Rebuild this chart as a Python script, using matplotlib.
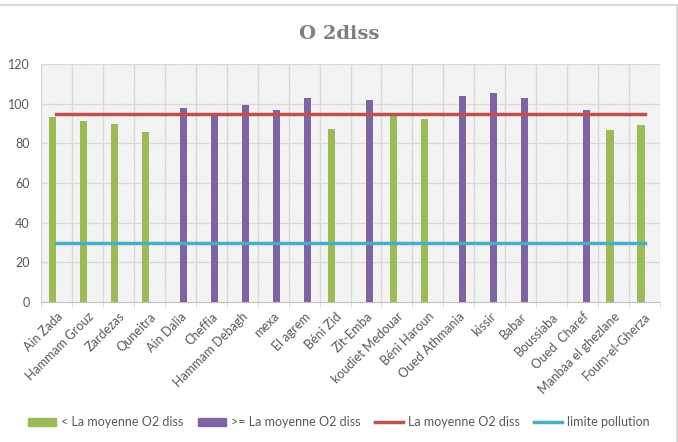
import matplotlib
matplotlib.use("Agg")
import matplotlib.pyplot as plt
import numpy as np
from matplotlib.lines import Line2D
from matplotlib.patches import Patch

categories = ["Ain Zada", "Hammam Grouz", "Zardezas", "Quneitra", "Ain Dalia", "Cheffia",
              "Hammam Debagh", "mexa", "El agrem", "Béni Zid", "Zit-Emba", "koudiet Medouar",
              "Béni Haroun", "Oued Athmania", "kissir", "Babar", "Boussiaba", "Oued  Charef",
              "Manbaa el ghezlane", "Foum-el-Gherza"]
below_mean = [93.3, 91.1, 89.6, 85.7, 0, 0, 0, 0, 0, 87.0, 0, 93.8, 92.4, 0, 0, 0, 0, 0, 86.9, 89.4]
above_mean = [0, 0, 0, 0, 97.9, 95.2, 99.4, 96.7, 102.8, 0, 101.6, 0, 0, 103.8, 105.5, 102.8, 0, 96.7, 0, 0]
mean_value = 95
pollution_limit = 30

green = "#9bbb59"
purple = "#8064a2"
red = "#c0504d"
blue = "#4bacc6"
grid = "#d9d9d9"
text_c = "#595959"

plt.rcParams['font.family'] = ['Lato', 'DejaVu Sans']
plt.rcParams['hatch.linewidth'] = 0.6

fig = plt.figure(figsize=(6.78, 4.42), dpi=100)
ax = fig.add_axes([41/678, 1-302/442, (660-41)/678, (302-64)/442])

n = len(categories)
x = np.arange(n)
w = 0.23

# hatched background
ax.add_patch(plt.Rectangle((-0.5, 0), n, 120, facecolor="white", edgecolor="#e8e8e8",
                           hatch="\\" * 14, linewidth=0, zorder=0))

ax.bar(x - w/2, below_mean, width=w, color=green, zorder=3, label="< La moyenne O2 diss")
ax.bar(x + w/2, above_mean, width=w, color=purple, zorder=3, label=">= La moyenne O2 diss")
ax.plot(x, [mean_value]*n, color=red, lw=2.5, zorder=4, label="La moyenne O2 diss")
ax.plot(x, [pollution_limit]*n, color=blue, lw=2.5, zorder=4, label="limite pollution")

ax.set_xlim(-0.5, n - 0.5)
ax.set_ylim(0, 120)
ax.set_yticks(range(0, 121, 20))
ax.set_yticklabels([str(v) for v in range(0, 121, 20)], color=text_c, fontsize=9)
ax.tick_params(axis='y', length=0, pad=8)

for v in range(20, 121, 20):
    ax.axhline(v, color=grid, lw=1, zorder=1)
for b in np.arange(-0.5, n, 1):
    ax.axvline(b, color=grid, lw=1, zorder=1)

ax.set_xticks(x)
ax.set_xticklabels(categories, rotation=45, ha='right', rotation_mode='anchor',
                   color=text_c, fontsize=9)
ax.set_xticks(np.arange(-0.5, n, 1), minor=True)
ax.tick_params(axis='x', which='major', length=0, pad=6)
ax.tick_params(axis='x', which='minor', length=4, color=grid)

for s in ["top", "right", "left"]:
    ax.spines[s].set_visible(False)
ax.spines["bottom"].set_color("#bfbfbf")

fig.text(0.5, 1-34/442, "O 2diss", ha='center', va='center', fontsize=14, fontweight='bold',
         color="#7f7f7f", family=['DejaVu Serif'])

handles = [Patch(color=green), Patch(color=purple),
           Line2D([0], [0], color=red, lw=2.5), Line2D([0], [0], color=blue, lw=2.5)]
labels = ["< La moyenne O2 diss", ">= La moyenne O2 diss", "La moyenne O2 diss", "limite pollution"]
fig.legend(handles, labels, loc='center', bbox_to_anchor=(0.5, 1-422/442), ncol=4,
           frameon=False, fontsize=9, labelcolor=text_c, handlelength=2.2,
           handleheight=0.6, columnspacing=1.2, handletextpad=0.4)

# outer chart border
fig.add_artist(Line2D([0, 677/678], [1-5/442, 1-5/442], color=grid, lw=1.5, transform=fig.transFigure))
fig.add_artist(Line2D([677/678, 677/678], [0, 1-5/442], color=grid, lw=1.5, transform=fig.transFigure))

fig.savefig("out.png", dpi=100)
